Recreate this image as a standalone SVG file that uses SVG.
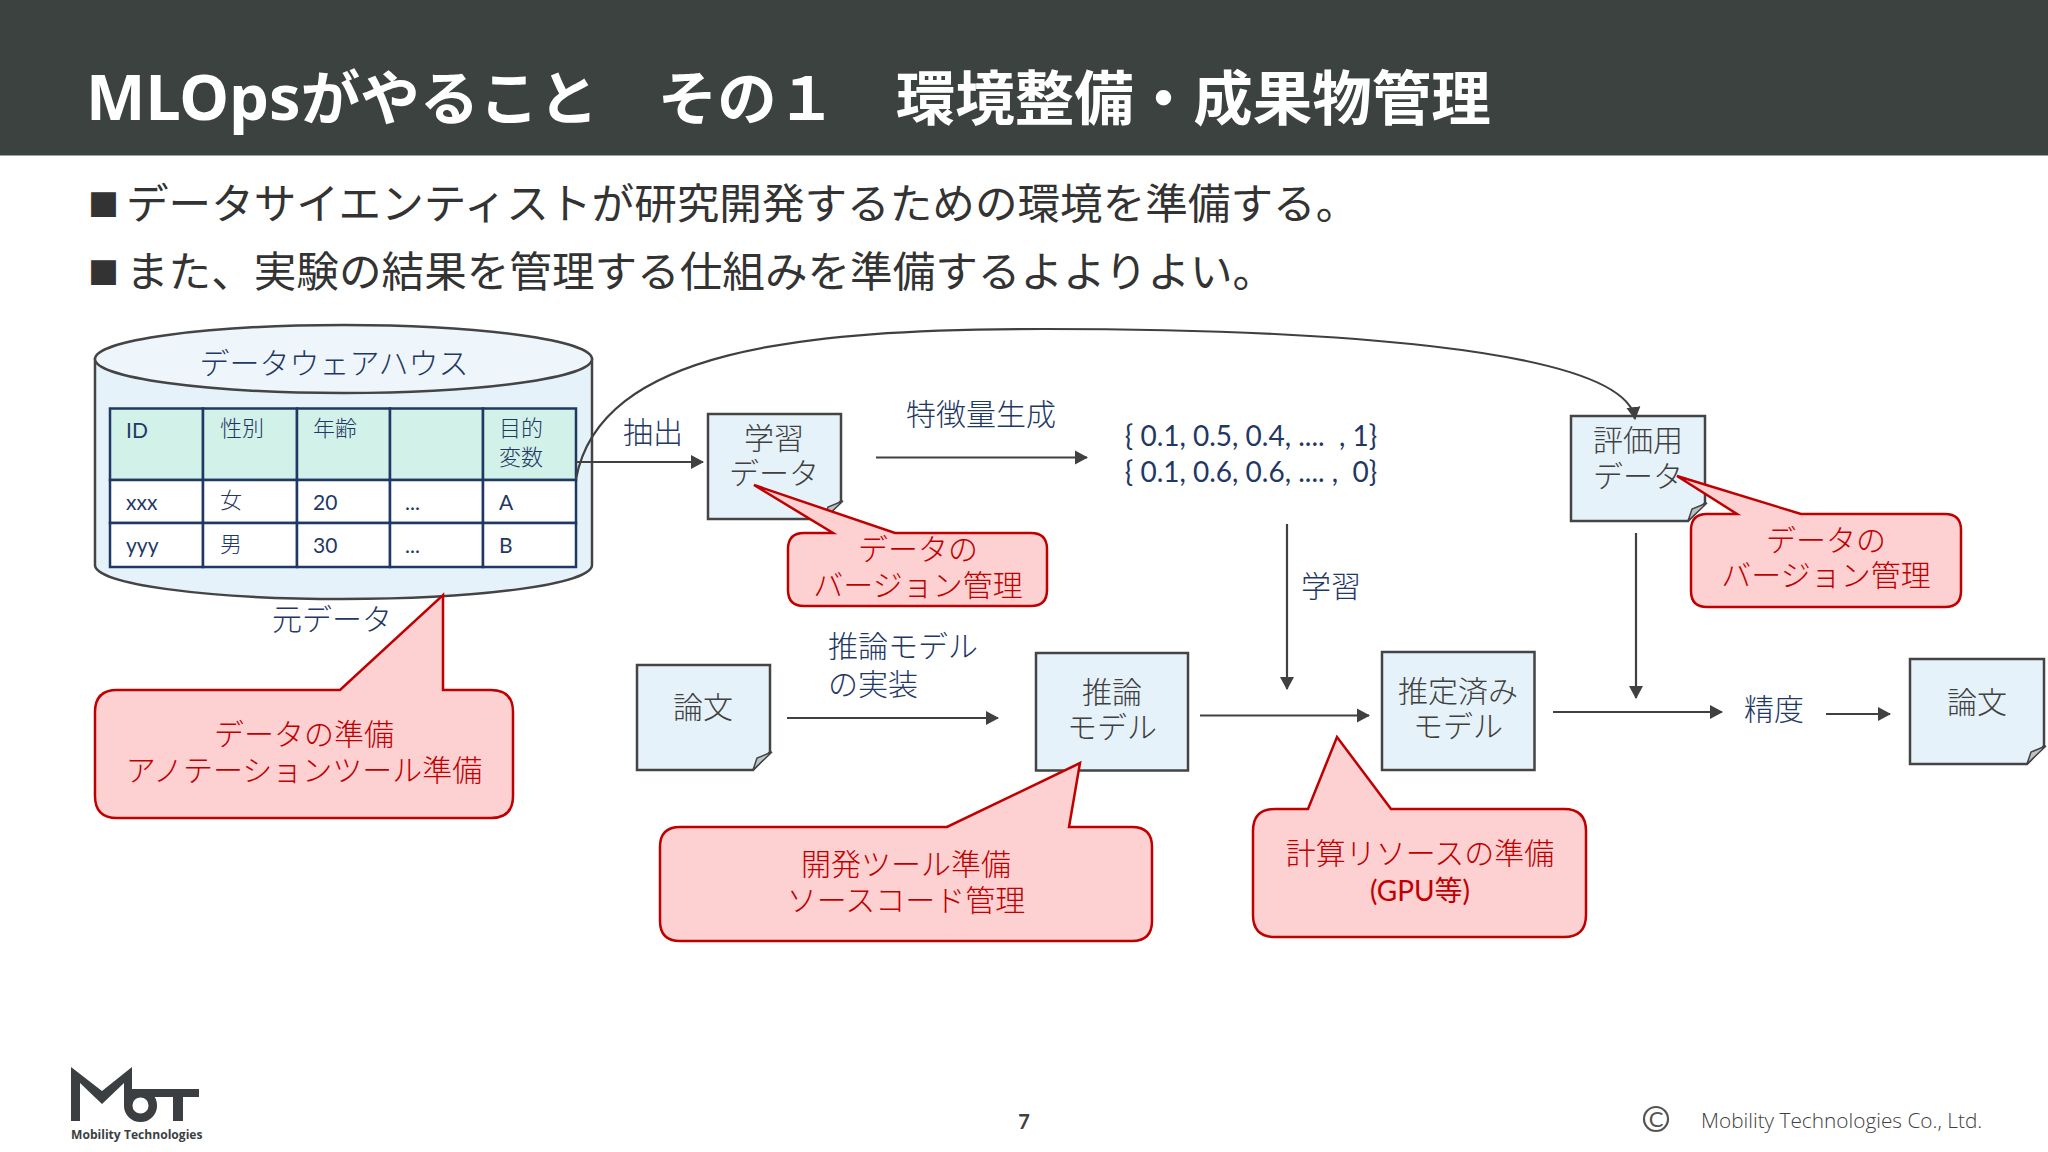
<svg xmlns="http://www.w3.org/2000/svg" width="2048" height="1152" viewBox="0 0 2048 1152">
<style>
text{font-family:"Lato","Noto Sans CJK JP",sans-serif}
.jp{font-weight:300;font-size:30px}
.m{text-anchor:middle}
.navy{fill:#1f3864}
.gray{fill:#404040}
.red{fill:#c00000}
.doc{fill:#e6f2f9;stroke:#444;stroke-width:2.5}
.fold{fill:#bcc3c7;stroke:#444;stroke-width:1.5}
.call{fill:#fdd0d2;stroke:#c00000;stroke-width:2.5}
.cell{stroke:#1f3864;stroke-width:2.5}
.t{font-size:22px;font-weight:300;fill:#1f3864}
.l{font-size:21px;font-weight:400;fill:#1f3864}
.conn{fill:none;stroke:#404040;stroke-width:2.2;marker-end:url(#arr)}
.b{font-size:42.600px;font-weight:400;fill:#333}
.sq{font-size:31px;fill:#333;font-family:"Noto Sans CJK JP",sans-serif}
</style>
<defs>
<marker id="arr" markerUnits="userSpaceOnUse" markerWidth="13" markerHeight="15" refX="12" refY="7.500" orient="auto"><path d="M0,0.5 L13,7.500 L0,14.500 Z" fill="#404040"/></marker>
</defs>
<rect width="2048" height="1152" fill="#fff"/>
<rect width="2048" height="155.500" fill="#3b4240"/>
<text x="86" y="120" font-size="59.500" font-weight="700" fill="#fff" style="font-family:'Noto Sans','Noto Sans CJK JP',sans-serif"><tspan font-size="63">MLOps</tspan>がやること　その１　環境整備・成果物管理</text>
<text x="88" y="216" class="sq">■</text>
<text x="126" y="219" class="b">データサイエンティストが研究開発するための環境を準備する。</text>
<text x="88" y="284" class="sq">■</text>
<text x="126" y="287" class="b">また、実験の結果を管理する仕組みを準備するよよりよい。</text>

<g id="warehouse">
<path d="M95,359 V565 C95,584 205,599 343,599 C481,599 592,584 592,565 V359 Z" fill="#e6f2f9" stroke="#444" stroke-width="2.5"/>
<ellipse cx="343.500" cy="359" rx="248.500" ry="34" fill="#eef6fb" stroke="#444" stroke-width="2.5"/>
<text x="334" y="374" class="jp m navy">データウェアハウス</text>
<g class="cell">
<rect x="110" y="408.500" width="93" height="71.500" fill="#d2f1e8"/><rect x="203" y="408.500" width="94" height="71.500" fill="#d2f1e8"/><rect x="297" y="408.500" width="93" height="71.500" fill="#d2f1e8"/><rect x="390" y="408.500" width="93" height="71.500" fill="#d2f1e8"/><rect x="483" y="408.500" width="93" height="71.500" fill="#d2f1e8"/>
<rect x="110" y="480" width="93" height="43" fill="#fff"/><rect x="203" y="480" width="94" height="43" fill="#fff"/><rect x="297" y="480" width="93" height="43" fill="#fff"/><rect x="390" y="480" width="93" height="43" fill="#fff"/><rect x="483" y="480" width="93" height="43" fill="#fff"/>
<rect x="110" y="523" width="93" height="44" fill="#fff"/><rect x="203" y="523" width="94" height="44" fill="#fff"/><rect x="297" y="523" width="93" height="44" fill="#fff"/><rect x="390" y="523" width="93" height="44" fill="#fff"/><rect x="483" y="523" width="93" height="44" fill="#fff"/>
</g>
<text x="126" y="438" class="l">ID</text><text x="220" y="436" class="t">性別</text><text x="313" y="436" class="t">年齢</text><text x="499" y="436" class="t">目的</text><text x="499" y="465" class="t">変数</text>
<text x="126" y="510" class="l">xxx</text><text x="220" y="508" class="t">女</text><text x="313" y="510" class="l">20</text><text x="405" y="510" class="l">...</text><text x="499" y="510" class="l">A</text>
<text x="126" y="553" class="l">yyy</text><text x="220" y="552" class="t">男</text><text x="313" y="553" class="l">30</text><text x="405" y="553" class="l">...</text><text x="499" y="553" class="l">B</text>
<text x="332" y="630" class="jp m navy">元データ</text>
</g>

<g id="train-data"><path class="doc" d="M708,414 H841 V501 L824,519 H708 Z"/><path class="fold" d="M824,519 L828,507 L843,501 Z"/><text x="774" y="449" class="jp m gray">学習</text><text x="774" y="484" class="jp m gray">データ</text></g>
<g id="eval-data"><path class="doc" d="M1571,416 H1705 V503 L1688,521 H1571 Z"/><path class="fold" d="M1688,521 L1692,509 L1707,503 Z"/><text x="1638" y="451" class="jp m gray">評価用</text><text x="1638" y="487" class="jp m gray">データ</text></g>
<g id="paper-in"><path class="doc" d="M637,665 H770 V752 L753,770 H637 Z"/><path class="fold" d="M753,770 L757,758 L772,752 Z"/><text x="703" y="718" class="jp m gray">論文</text></g>
<g id="paper-out"><path class="doc" d="M1910,659 H2044 V746 L2027,764 H1910 Z"/><path class="fold" d="M2027,764 L2031,752 L2046,746 Z"/><text x="1977" y="713" class="jp m gray">論文</text></g>
<g id="infer-model"><rect class="doc" x="1036" y="653" width="152" height="117.500"/><text x="1112" y="703" class="jp m gray">推論</text><text x="1112" y="738" class="jp m gray">モデル</text></g>
<g id="trained-model"><rect class="doc" x="1382" y="652" width="152.500" height="118"/><text x="1458" y="702" class="jp m gray">推定済み</text><text x="1458" y="737" class="jp m gray">モデル</text></g>

<g id="connectors">
<path class="conn" d="M576,462 H703"/>
<path class="conn" d="M576,479 C600,350 800,329 1044,329 C1300,329 1625,345 1635,419"/>
<path class="conn" d="M876,457.500 H1087"/>
<path class="conn" d="M1287,524 V689"/>
<path class="conn" d="M787,718 H998"/>
<path class="conn" d="M1200,715.500 H1369"/>
<path class="conn" d="M1636,533 V698"/>
<path class="conn" d="M1553,712 H1722"/>
<path class="conn" d="M1826,714 H1890"/>
</g>

<g id="labels">
<text x="653" y="443" class="jp m navy">抽出</text>
<text x="981" y="425" class="jp m navy">特徴量生成</text>
<text x="1251" y="446" class="m navy" font-size="28">{ 0.1, 0.5, 0.4, .... &#160;, 1}</text>
<text x="1251" y="482" class="m navy" font-size="28">{ 0.1, 0.6, 0.6, .... , &#160;0}</text>
<text x="1331" y="597" class="jp m navy">学習</text>
<text x="828" y="657" class="jp navy">推論モデル</text>
<text x="828" y="695" class="jp navy">の実装</text>
<text x="1774" y="720" class="jp m navy">精度</text>
</g>

<g id="callout-data"><path class="call" d="M117,690 H340 L443,595 V690 H491 Q513,690 513,712 V796 Q513,818 491,818 H117 Q95,818 95,796 V712 Q95,690 117,690 Z"/><text x="304" y="745" class="jp m red">データの準備</text><text x="304" y="781" class="jp m red">アノテーションツール準備</text></g>
<g id="callout-train"><path class="call" d="M804,533 H833 L754,485 L895,533 H1031 Q1047,533 1047,549 V590 Q1047,606 1031,606 H804 Q788,606 788,590 V549 Q788,533 804,533 Z"/><text x="918" y="560" class="jp m red">データの</text><text x="918" y="596" class="jp m red">バージョン管理</text></g>
<g id="callout-tool"><path class="call" d="M680,827 H947 L1080,763 L1069,827 H1132 Q1152,827 1152,847 V921 Q1152,941 1132,941 H680 Q660,941 660,921 V847 Q660,827 680,827 Z"/><text x="906" y="875" class="jp m red">開発ツール準備</text><text x="906" y="911" class="jp m red">ソースコード管理</text></g>
<g id="callout-gpu"><path class="call" d="M1275,809 H1308 L1337,737 L1391,809 H1564 Q1586,809 1586,831 V915 Q1586,937 1564,937 H1275 Q1253,937 1253,915 V831 Q1253,809 1275,809 Z"/><text x="1420" y="864" class="jp m red">計算リソースの準備</text><text x="1420" y="901" class="m red" font-size="28">(GPU等)</text></g>
<g id="callout-eval"><path class="call" d="M1707,514 H1737 L1677,476 L1801,514 H1945 Q1961,514 1961,530 V591 Q1961,607 1945,607 H1707 Q1691,607 1691,591 V530 Q1691,514 1707,514 Z"/><text x="1826" y="551" class="jp m red">データの</text><text x="1826" y="586" class="jp m red">バージョン管理</text></g>

<g id="logo" fill="#3b3f42">
<path d="M71,1067 L102,1091 L132,1067 L132,1106 L124,1106 L124,1083 L102,1104 L80,1083 L80,1121 L71,1121 Z"/>
<circle cx="140.500" cy="1105.500" r="12.300" fill="none" stroke="#3b3f42" stroke-width="8.500"/>
<path d="M132,1089 H199 V1097 H183 V1121 H173 V1097 H132 Z"/>
<text x="71" y="1139" font-size="12.100" font-weight="700" style="font-family:'Open Sans',sans-serif">Mobility Technologies</text>
</g>
<text x="1024" y="1129" class="m" font-size="20" font-weight="700" fill="#404040">7</text>
<circle cx="1656" cy="1119" r="12" fill="none" stroke="#555" stroke-width="2.200"/>
<text x="1656" y="1127" class="m" font-size="22" fill="#555">C</text>
<text x="1701" y="1128" font-size="20.800" font-weight="300" fill="#404040" style="font-family:'Open Sans',sans-serif">Mobility Technologies Co., Ltd.</text>
</svg>
